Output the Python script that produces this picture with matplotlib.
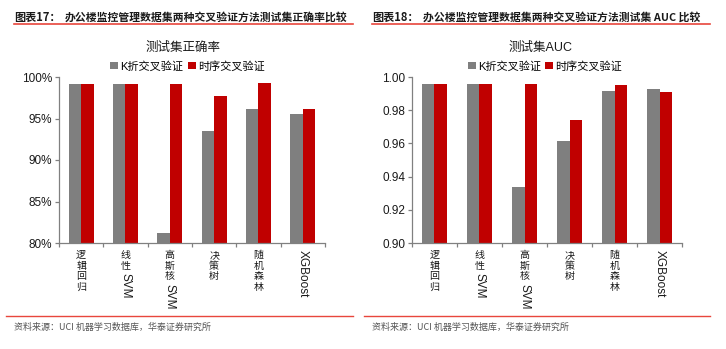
import matplotlib
matplotlib.use("Agg")
import matplotlib.pyplot as plt
from matplotlib import transforms
from matplotlib.lines import Line2D
from matplotlib.ticker import FuncFormatter, MultipleLocator

plt.rcParams['font.family'] = ['Liberation Sans', 'Noto Sans CJK SC']

# Data
models_cjk = ["逻辑回归", "线性", "高斯核", "决策树", "随机森林", ""]
models_latin = ["", "SVM", "SVM", "", "", "XGBoost"]
series_names = ["K折交叉验证", "时序交叉验证"]

acc_kfold = [0.9912, 0.9920, 0.8125, 0.9350, 0.9610, 0.9560]
acc_time = [0.9920, 0.9920, 0.9910, 0.9767, 0.9930, 0.9610]

auc_kfold = [0.9956, 0.9956, 0.9340, 0.9616, 0.9916, 0.9928]
auc_time = [0.9956, 0.9956, 0.9956, 0.9739, 0.9952, 0.9910]

titles = ["办公楼监控管理数据集两种交叉验证方法测试集正确率比较",
          "办公楼监控管理数据集两种交叉验证方法测试集 AUC 比较"]
fig_nums = ["图表17：", "图表18："]
subtitles = ["测试集正确率", "测试集AUC"]
source = "资料来源：UCI 机器学习数据库，华泰证券研究所"

GRAY = "#7f7f7f"
RED = "#c00000"
LINE_RED = "#e8463c"
CJK = ['Noto Sans CJK SC', 'Liberation Sans']

W, H = 726, 349
fig = plt.figure(figsize=(W / 100, H / 100), dpi=100)


def fx(px):
    return px / W


def fy(py):
    return 1 - py / H


def draw_panel(rect, kfold, timeser, ylim, step, fmt, subtitle, left_px, right_px, num, title):
    ax = fig.add_axes(rect)
    n = len(kfold)
    xs = list(range(n))
    bw = 0.28
    ax.bar([x - bw / 2 for x in xs], kfold, width=bw, color=GRAY, label=series_names[0])
    ax.bar([x + bw / 2 for x in xs], timeser, width=bw, color=RED, label=series_names[1])
    ax.set_xlim(-0.5, n - 0.5)
    ax.set_ylim(*ylim)
    ax.yaxis.set_major_locator(MultipleLocator(step))
    ax.yaxis.set_major_formatter(FuncFormatter(fmt))
    ax.set_xticks([i - 0.5 for i in range(n + 1)])
    ax.set_xticklabels([])
    for s in ["top", "right"]:
        ax.spines[s].set_visible(False)
    for s in ["left", "bottom"]:
        ax.spines[s].set_color("#808080")
        ax.spines[s].set_linewidth(0.9)
    ax.tick_params(axis="both", direction="out", length=3, color="#808080", width=0.9,
                   labelsize=8.5, labelcolor="#1a1a1a", pad=2)

    # vertical category labels: CJK upright, Latin rotated
    trans = ax.get_xaxis_transform()
    step_pt = 7.7
    for i in range(n):
        off = 5
        for ch in models_cjk[i]:
            t = transforms.offset_copy(trans, fig=fig, x=0, y=-off, units="points")
            ax.text(i, 0, ch, transform=t, ha="center", va="top", fontsize=7.2,
                    color="#1a1a1a", family=CJK)
            off += step_pt
        if models_latin[i]:
            t = transforms.offset_copy(trans, fig=fig, x=0, y=-(off + 1.5 if models_cjk[i] else off),
                                       units="points")
            ax.text(i, 0, models_latin[i], transform=t, ha="center", va="top", rotation=-90,
                    fontsize=8.5, color="#1a1a1a")

    # legend and subtitle
    cx = fx((left_px + right_px) / 2)
    ax.legend(loc="center", bbox_to_anchor=(cx + fx(4), fy(66)), bbox_transform=fig.transFigure,
              ncol=2, frameon=False, fontsize=8, handlelength=0.7, handleheight=0.7,
              handletextpad=0.2, columnspacing=0.4, borderpad=0)
    fig.text(cx, fy(48), subtitle, ha="center", va="center", fontsize=9, color="#1a1a1a")

    # header and footer
    fig.text(fx(left_px), fy(17), num, ha="left", va="center", fontsize=8, fontweight="bold",
             color="#1a1a1a", family=CJK)
    fig.text(fx(left_px + 51), fy(17), title, ha="left", va="center", fontsize=7.8,
             fontweight="bold", color="#1a1a1a", family=CJK)
    fig.add_artist(Line2D([fx(left_px), fx(right_px)], [fy(24), fy(24)], color=LINE_RED,
                          lw=1.2, transform=fig.transFigure))
    fig.add_artist(Line2D([fx(left_px - 8), fx(right_px)],
                          [fy(316), fy(316)], color=LINE_RED, lw=1.0, transform=fig.transFigure))
    fig.text(fx(left_px), fy(327), source, ha="left", va="center", fontsize=6.5,
             color="#555555", family=CJK)
    return ax


draw_panel([fx(59), fy(243), fx(325 - 59), (243 - 77) / H], acc_kfold, acc_time,
           (0.80, 1.00), 0.05, lambda v, p: f"{v * 100:.0f}%", subtitles[0], 14, 353,
           fig_nums[0], titles[0])
draw_panel([fx(412), fy(243), fx(682 - 412), (243 - 77) / H], auc_kfold, auc_time,
           (0.90, 1.00), 0.02, lambda v, p: f"{v:.2f}", subtitles[1], 372, 710,
           fig_nums[1], titles[1])

fig.savefig("out.png", dpi=100)
